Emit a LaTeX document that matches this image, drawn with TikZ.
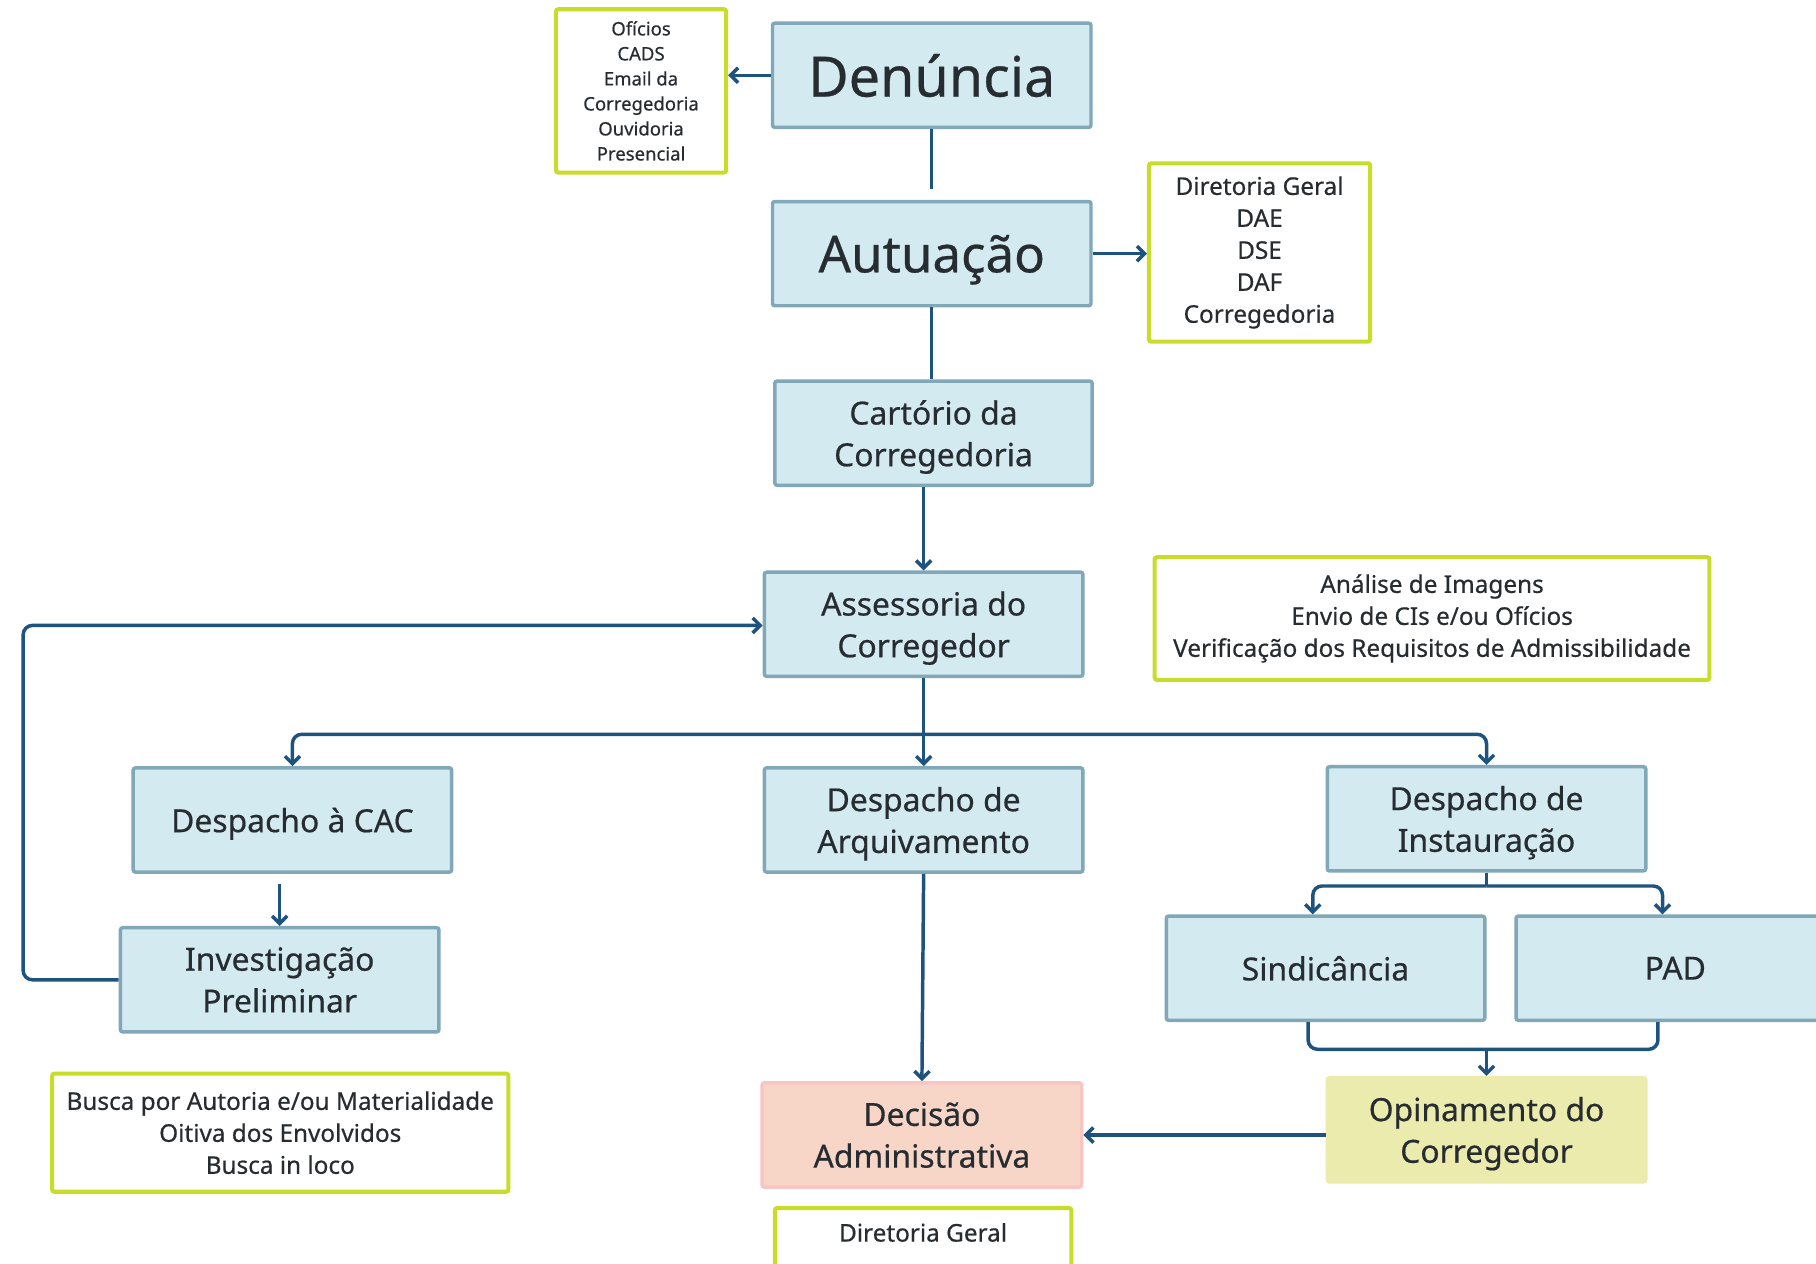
\documentclass[tikz,border=0pt]{standalone}
\usepackage{fontspec}
\setmainfont{Noto Sans}[FakeBold=0.5]
\usetikzlibrary{arrows.meta}
\definecolor{boxfill}{HTML}{D3EAF1}
\definecolor{boxline}{HTML}{80A8B8}
\definecolor{arrowc}{HTML}{1E5380}
\definecolor{notec}{HTML}{C8DC2A}
\definecolor{decfill}{HTML}{F7D6C8}
\definecolor{decline}{HTML}{F8C4C4}
\definecolor{opifill}{HTML}{ECEBAE}
\definecolor{textc}{HTML}{272C31}
\tikzset{my box/.style={draw=boxline, fill=boxfill, line width=3pt, rounded corners=2pt, minimum width=275pt, minimum height=90pt, align=center, text=textc, text depth=0pt, font=\fontsize{27.5}{36}\selectfont},
my note/.style={draw=notec, fill=white, line width=3.5pt, rounded corners=2pt, align=center, text=textc, font=\fontsize{21}{27.6}\selectfont},
my line/.style={draw=arrowc, line width=3pt},
my arrow/.style={my line, -{Straight Barb[length=6.5pt,width=13pt]}},}

\begin{document}
\begin{tikzpicture}[x=1pt,y=-1pt]
\clip (0,0) rectangle (1568,1091);
\fill[white] (0,0) rectangle (1568,1091);
% caixas principais
\node [my box, font=\fontsize{48}{56}\selectfont] (den) at (804.5, 65) {Denúncia};
\node [my box, font=\fontsize{44}{50}\selectfont] (aut) at (804.5,219) {Autuação};
\node [my box, minimum width=274pt] (car) at (806,374) {Cartório da\\Corregedoria};
\node [my box] (ass) at (797.5,539) {Assessoria do\\Corregedor};
\node [my box] (cac) at (252.5,708) {Despacho à CAC};
\node [my box] (arq) at (797.5,708) {Despacho de\\Arquivamento};
\node [my box] (ins) at (1283.5,707) {Despacho de\\Instauração};
\node [my box] (inv) at (241.5,846) {Investigação\\Preliminar};
\node [my box] (sin) at (1144.5,836) {Sindicância};
\node [my box] (pad) at (1446.5,836) {PAD};
\node [my box, draw=opifill, fill=opifill] (opi) at (1283.5,975.5) {Opinamento do\\Corregedor};
\node [my box, draw=decline, fill=decfill, minimum width=276pt] (dec) at (796,980) {Decisão\\Administrativa};
% caixas de notas
\node [my note, font=\fontsize{16}{21.6}\selectfont, minimum width=147pt, minimum height=141pt] (ofi) at (553.5,78.5) {Ofícios\\CADS\\Email da\\Corregedoria\\Ouvidoria\\Presencial};
\node [my note, minimum width=191pt, minimum height=154pt] (dir) at (1087.5,218) {Diretoria Geral\\DAE\\DSE\\DAF\\Corregedoria};
\node [my note, minimum width=479pt, minimum height=106pt] (ana) at (1236.5,534) {Análise de Imagens\\Envio de CIs e/ou Ofícios\\Verificação dos Requisitos de Admissibilidade};
\node [my note, minimum width=394pt, minimum height=102pt] (bus) at (242,978) {Busca por Autoria e/ou Materialidade\\Oitiva dos Envolvidos\\Busca in loco};
\node [my note, minimum width=256pt, text height=15pt, text depth=19pt, inner ysep=14pt, anchor=base] (dg) at (797,1072) {Diretoria Geral};
% pontos auxiliares
\coordinate (split1) at (797.5,634);
\coordinate (split2) at (1283.5,765);
\coordinate (join) at (1283.5,906);
\coordinate (loop) at (20,540);
% ligacoes
\draw [my arrow] (den.west) -- (den.west -| ofi.east);
\draw [my line, shorten >=9pt] (den) -- (aut);
\draw [my arrow] (aut.east) -- (aut.east -| dir.west);
\draw [my line] (aut.south) -- (aut.south |- car.north);
\draw [my arrow] (ass.north |- car.south) -- (ass.north);
\draw [my line] (ass.south) -- (split1);
\draw [my arrow] (split1) -- (arq.north);
\draw [my arrow, rounded corners=8pt] (split1) -| (cac.north);
\draw [my arrow, rounded corners=8pt] (split1) -| (ins.north);
\draw [my arrow, shorten <=9pt] (inv.north |- cac.south) -- (inv.north);
\draw [my arrow, rounded corners=8pt] (inv.west) -| (loop) -- (loop -| ass.west);
\draw [my arrow] (arq.south) -- (dec.north);
\draw [my line] (ins.south) -- (split2);
\draw [my arrow, rounded corners=8pt] (split2) -| ([xshift=-11pt]sin.north);
\draw [my arrow, rounded corners=8pt] (split2) -| ([xshift=-11pt]pad.north);
\draw [my line, rounded corners=8pt] ([xshift=-15pt]sin.south) |- (join) -| ([xshift=-15pt]pad.south);
\draw [my arrow] (join) -- (opi.north);
\draw [my arrow] (dec.east -| opi.west) -- (dec.east);
\end{tikzpicture}
\end{document}
